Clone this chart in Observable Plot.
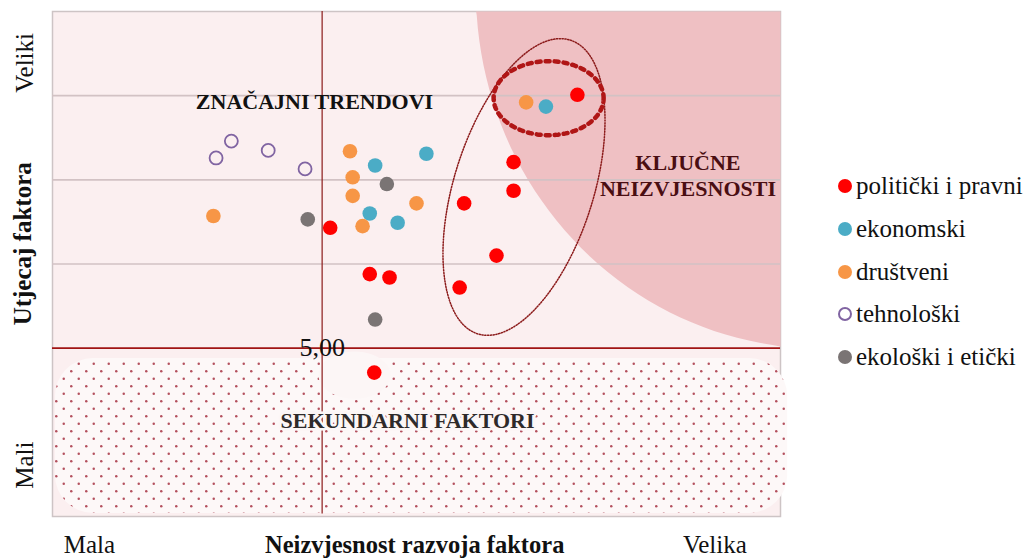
<!DOCTYPE html>
<html><head><meta charset="utf-8">
<script src="https://cdn.jsdelivr.net/npm/d3@7"></script>
<script src="https://cdn.jsdelivr.net/npm/@observablehq/plot@0.6"></script>
<style>
html,body{margin:0;padding:0;background:#fff;}
#wrap{position:relative;width:1026px;height:559px;}
#legend{position:absolute;left:838px;top:165px;font-family:"Liberation Serif",serif;font-size:25px;color:#111;}
.row{height:42.7px;display:flex;align-items:center;white-space:nowrap;}
.sw{width:14px;height:14px;border-radius:50%;margin-right:4px;box-sizing:border-box;flex:none;}
</style></head><body><div id="wrap"></div>
<script>
// Categories and colours
const categories = ["politički i pravni", "ekonomski", "društveni", "tehnološki", "ekološki i etički"];
const categoryColors = ["#ff0000", "#4bacc6", "#f79646", "#8064a2", "#7a7474"];

// Factors: uncertainty (x), impact (y), category index
const uncertainty = [5.09, 5.53, 5.75, 7.84, 7.13, 7.13, 6.58, 6.94, 6.53, 5.58,
                     5.59, 6.16, 5.53, 5.84, 7.49,
                     3.79, 5.31, 5.34, 5.34, 5.45, 6.05, 7.27,
                     3.82, 3.99, 4.40, 4.81,
                     4.84, 5.72, 5.59];
const impact      = [6.43, 5.88, 5.84, 8.01, 7.21, 6.87, 6.72, 6.10, 5.72, 4.71,
                     7.17, 7.31, 6.60, 6.49, 7.87,
                     6.57, 7.34, 7.03, 6.81, 6.45, 6.72, 7.92,
                     7.26, 7.46, 7.35, 7.13,
                     6.53, 6.95, 5.34];
const factorCategory = [0,0,0,0,0,0,0,0,0,0,
                        1,1,1,1,1,
                        2,2,2,2,2,2,2,
                        3,3,3,3,
                        4,4,4];

// Axis / region labels
const yAxisTitle = "Utjecaj faktora";
const xAxisTitle = "Neizvjesnost razvoja faktora";
const yLow = "Mali", yHigh = "Veliki", xLow = "Mala", xHigh = "Velika";
const thresholdLabel = "5,00";
const gridValues = [6, 7, 8];
const threshold = 5;
const xDomain = [2, 10.1], yDomain = [3, 9];

const points = uncertainty.map((u, i) => ({x: u, y: impact[i], cat: categories[factorCategory[i]]}));
const filled = points.filter(d => d.cat !== "tehnološki");
const hollow = points.filter(d => d.cat === "tehnološki");

// Annotation shapes (centre + conjugate semi-axes, data units)
const keyRegion = {cx: 10.545, cy: 9.25, ux: 3.834, uy: 0, vx: 0, vy: 4.253};
const bigEllipse = {cx: 7.246, cy: 6.915, ux: 0.515, uy: 1.745, vx: 0.740, vy: -0.249};
const smallEllipse = {cx: 7.52, cy: 7.97, ux: 0.612, uy: 0, vx: 0, vy: 0.44};
const clearBlob = {cx: 5.36, cy: 4.68, ux: 0.40, uy: 0, vx: 0, vy: 0.28};
function outline(c) {
  return d3.range(0, 361, 2).map(a => {
    const t = a * Math.PI / 180;
    return {x: c.cx + c.ux * Math.cos(t) + c.vx * Math.sin(t), y: c.cy + c.uy * Math.cos(t) + c.vy * Math.sin(t)};
  });
}
const clamp = (v, [a, b]) => Math.max(a, Math.min(b, v));
const regionPts = outline(keyRegion).map(p => ({x: clamp(p.x, xDomain), y: clamp(p.y, [threshold, yDomain[1]])}));

const serif = "Liberation Serif";

const svg = Plot.plot({
  width: 1026, height: 559,
  marginLeft: 52, marginRight: 246, marginTop: 11, marginBottom: 43,
  x: {domain: xDomain, axis: null},
  y: {domain: yDomain, axis: null},
  color: {domain: categories, range: categoryColors},
  style: {background: "transparent", overflow: "visible"},
  marks: [
    Plot.frame({fill: "#fbeff0", stroke: "#cdc4c5", strokeWidth: 1.5}),
    Plot.line(regionPts, {x: "x", y: "y", fill: "#efc0c3", stroke: "none"}),
    Plot.rect([{x1: 2.033, x2: 10.18, y1: 3.036, y2: 4.877}], {x1: "x1", x2: "x2", y1: "y1", y2: "y2", fill: "url(#dots)", rx: 38}),
    Plot.line(outline(clearBlob), {x: "x", y: "y", fill: "#fcf6f6", stroke: "none"}),
    Plot.ruleY(gridValues, {stroke: "#d2c2c4", strokeWidth: 1.6}),
    Plot.dot(filled, {x: "x", y: "y", fill: "cat", r: 7.3}),
    Plot.dot(hollow, {x: "x", y: "y", stroke: "cat", fill: "none", r: 6.5, strokeWidth: 1.8}),
    Plot.ruleY([threshold], {stroke: "#a01414", strokeWidth: 1.6}),
    Plot.ruleX([threshold], {y1: 3.03, y2: 9, stroke: "#8b1a1a", strokeWidth: 1.2}),
    Plot.line(outline(bigEllipse), {x: "x", y: "y", stroke: "#8b1a1a", strokeWidth: 1.5, strokeDasharray: "1.2,1.6"}),
    Plot.line(outline(smallEllipse), {x: "x", y: "y", stroke: "#b01616", strokeWidth: 4.5, strokeDasharray: "4,5"}),
    Plot.text([thresholdLabel], {x: threshold, y: threshold + 0.01, text: d => d, fontFamily: serif, fontSize: 26, fill: "#111", lineAnchor: "middle"}),
    Plot.text(["ZNAČAJNI TRENDOVI"], {x: 4.915, y: 7.92, text: d => d, fontFamily: serif, fontSize: 22, fontWeight: "bold", fill: "#111", lineAnchor: "middle"}),
    Plot.text(["KLJUČNE\nNEIZVJESNOSTI"], {x: 9.07, y: 7.06, text: d => d, fontFamily: serif, fontSize: 22, fontWeight: "bold", fill: "#4a0e12", lineAnchor: "middle", lineHeight: 1.18}),
    Plot.text(["SEKUNDARNI FAKTORI"], {x: 5.95, y: 4.13, text: d => d, fontFamily: serif, fontSize: 22, fontWeight: "bold", fill: "#2e2a2a", stroke: "#fcf6f6", strokeWidth: 5, lineAnchor: "middle"}),
    Plot.text([yHigh], {x: 1.69, y: 8.39, text: d => d, rotate: -90, fontFamily: serif, fontSize: 25, fill: "#111", lineAnchor: "middle"}),
    Plot.text([yAxisTitle], {x: 1.67, y: 6.24, text: d => d, rotate: -90, fontFamily: serif, fontSize: 25, fontWeight: "bold", fill: "#111", lineAnchor: "middle"}),
    Plot.text([yLow], {x: 1.69, y: 3.61, text: d => d, rotate: -90, fontFamily: serif, fontSize: 25, fill: "#111", lineAnchor: "middle"}),
    Plot.text([xLow], {x: 2.41, y: 2.66, text: d => d, fontFamily: serif, fontSize: 25, fill: "#111", lineAnchor: "middle"}),
    Plot.text([xAxisTitle], {x: 6.03, y: 2.66, text: d => d, fontFamily: serif, fontSize: 24.5, fontWeight: "bold", fill: "#111", lineAnchor: "middle"}),
    Plot.text([xHigh], {x: 9.37, y: 2.66, text: d => d, fontFamily: serif, fontSize: 25, fill: "#111", lineAnchor: "middle"})
  ]
});

// dot pattern definition
const defs = d3.select(svg).insert("defs", ":first-child");
const pat = defs.append("pattern").attr("id", "dots").attr("patternUnits", "userSpaceOnUse").attr("width", 15).attr("height", 15);
pat.append("rect").attr("width", 15).attr("height", 15).attr("fill", "#fdf8f8");
pat.append("circle").attr("cx", 3.75).attr("cy", 3.75).attr("r", 1.25).attr("fill", "#b4505e");
pat.append("circle").attr("cx", 11.25).attr("cy", 11.25).attr("r", 1.25).attr("fill", "#b4505e");

const wrap = document.getElementById("wrap");
wrap.appendChild(svg);

// legend
const legend = document.createElement("div");
legend.id = "legend";
categories.forEach((c, i) => {
  const row = document.createElement("div");
  row.className = "row";
  const sw = document.createElement("span");
  sw.className = "sw";
  if (c === "tehnološki") { sw.style.border = "2px solid " + categoryColors[i]; }
  else { sw.style.background = categoryColors[i]; }
  const tx = document.createElement("span");
  tx.textContent = c;
  row.appendChild(sw); row.appendChild(tx);
  legend.appendChild(row);
});
wrap.appendChild(legend);
</script>
</body></html>
